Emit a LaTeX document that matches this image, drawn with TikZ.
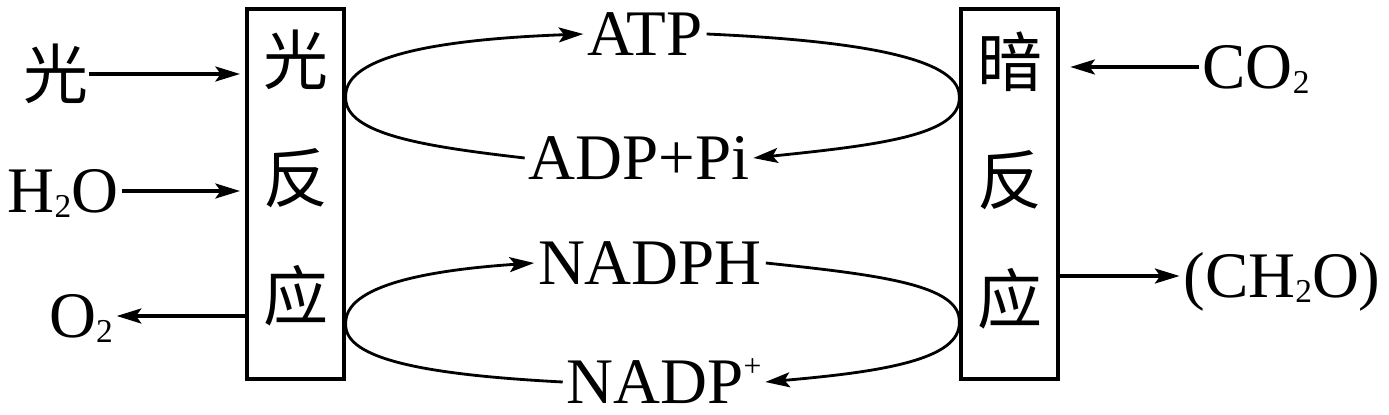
\documentclass[tikz,border=0pt]{standalone}
\usepackage{fontspec}
\setmainfont{Liberation Serif}
\newfontfamily\cjkfont{Noto Sans CJK SC}
\usetikzlibrary{arrows.meta, calc}
\newcommand\chemsub[1]{\raisebox{-0.08em}{\fontsize{19}{19}\selectfont #1}}
\newcommand\chemsup[1]{\raisebox{0.42em}{\fontsize{18}{18}\selectfont #1}}

\begin{document}
\begin{tikzpicture}[
    x=0.02cm, y=-0.02cm,
    >={Stealth[length=14pt, width=8.5pt, inset=3pt]},
    font=\fontsize{37}{44}\selectfont,
    box/.style={draw, line width=2pt, minimum width=1.94cm, minimum height=7.4cm, inner sep=0pt},
    lbl/.style={inner xsep=2pt, inner ysep=0pt, text height=24.5pt, text depth=0pt},
    cjk/.style={font=\fontsize{37}{44}\selectfont\cjkfont, inner sep=0pt},
    arr/.style={->, line width=2pt},
    loop/.style={->, line width=1.6pt}
]
\useasboundingbox (0,0) rectangle (1389,415);

% ================= REACTION BOXES =================
\node[box] (lbox) at (295.5,194) {};
\node[box] (rbox) at (1009.5,194) {};

\node[cjk] (lchar1) at (296,60) {光};
\node[cjk] (lchar2) at (296,178) {反};
\node[cjk] (lchar3) at (296,296) {应};

\node[cjk] (rchar1) at (1010,62) {暗};
\node[cjk] (rchar2) at (1010,180) {反};
\node[cjk] (rchar3) at (1010,299) {应};

% ================= LIGHT REACTION INPUTS / OUTPUT =================
\node[cjk] (light) at (56,74) {光};
\node[lbl] (water) at (63,191) {H\chemsub{2}O};
\node[lbl] (oxygen) at (81,316) {O\chemsub{2}};

\draw[arr, shorten >=3pt] (light.east) -- (light.east -| lbox.west);
\draw[arr, shorten >=3pt] (water.east) -- (water.east -| lbox.west);
\draw[arr] (oxygen.east -| lbox.west) -- (oxygen.east);

% ================= DARK REACTION INPUT / OUTPUT =================
\node[lbl] (co2) at (1256,67) {CO\chemsub{2}};
\node[lbl] (sugar) at (1282,276) {(CH\chemsub{2}O)};

\draw[arr, shorten >=6pt] (co2.west) -- (co2.west -| rbox.east);
\draw[arr] (sugar.west -| rbox.east) -- (sugar.west);

% ================= ENERGY CARRIERS =================
\node[lbl] (atp) at (645,34) {ATP};
\node[lbl] (adp) at (639,158) {ADP+Pi};
\node[lbl] (nadph) at (650,263) {NADPH};
\node[lbl] (nadp) at (664,382) {NADP\chemsup{+}};

\coordinate (ltop) at (lbox.east |- 0,97);
\coordinate (lbot) at (lbox.east |- 0,324);
\coordinate (rtop) at (rbox.west |- 0,97);
\coordinate (rbot) at (rbox.west |- 0,322);

% ATP cycle
\draw[loop] (adp.west) .. controls (430,147) and (344,135) .. (ltop)
    .. controls (344,60) and (420,40) .. (atp.west);
\draw[loop] (atp.east) .. controls (840,40) and (961,55) .. (rtop)
    .. controls (961,135) and (880,145) .. (adp.east);

% NADPH cycle
\draw[loop] (nadp.west) .. controls (430,375) and (344,360) .. (lbot)
    .. controls (344,285) and (430,270) .. (nadph.west);
\draw[loop] (nadph.east) .. controls (880,275) and (961,285) .. (rbot)
    .. controls (961,360) and (880,372) .. (nadp.east);

\end{tikzpicture}
\end{document}
